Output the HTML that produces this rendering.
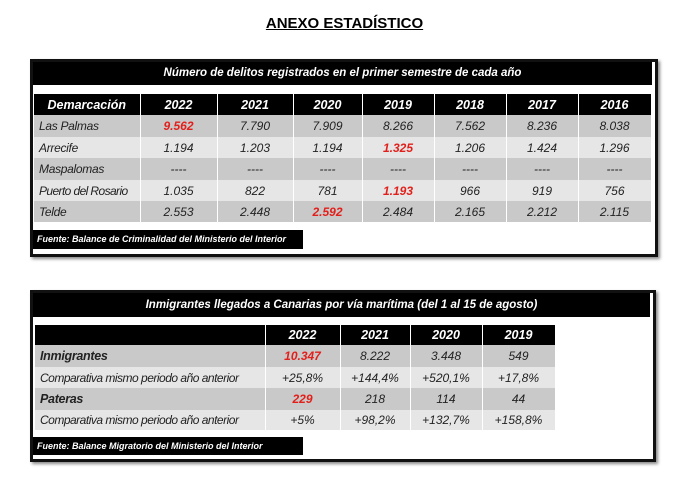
<!DOCTYPE html>
<html><head><meta charset="utf-8">
<style>
body{margin:0;width:689px;height:482px;background:#fff;position:relative;overflow:hidden;font-family:"Liberation Sans",sans-serif}
.t{position:absolute;left:0;width:689px;top:15px;text-align:center;font-weight:bold;font-size:15px;text-decoration:underline}
.box{position:absolute;border:3px solid #111;box-shadow:2px 2px 3px #888;background:#fff}
.bar{position:absolute;background:#000;color:#fff;font-style:italic;font-weight:bold;font-size:11.5px;text-align:center;white-space:nowrap}
table{position:absolute;border-collapse:collapse;table-layout:fixed;font-style:italic;font-size:12px;color:#222}
td,th{padding:0;text-align:center;border-right:1px solid #fff;white-space:nowrap;overflow:hidden}
th{background:#000;color:#fff;font-weight:bold;font-size:12.5px}
tr.d td{background:#c9c9c9}tr.l td{background:#e6e6e6}
td.n{text-align:left;padding-left:5px;letter-spacing:-0.3px}
.r{color:#e2201b;font-weight:bold}
.src{position:absolute;background:#000;color:#fff;font-style:italic;font-weight:bold;font-size:9px;padding-left:4px;white-space:nowrap}
</style></head><body>
<div class="t">ANEXO ESTADÍSTICO</div>

<div class="box" style="left:30px;top:59px;width:622px;height:192px"></div>
<div class="bar" style="left:33px;top:62px;width:619px;height:23px;line-height:23px">Número de delitos registrados en el primer semestre de cada año</div>
<table style="left:34px;top:94px;width:617px">
<colgroup><col style="width:106px"><col style="width:77px"><col style="width:76px"><col style="width:69px"><col style="width:72px"><col style="width:72px"><col style="width:72px"><col style="width:73px"></colgroup>
<tr style="height:21px"><th>Demarcación</th><th>2022</th><th>2021</th><th>2020</th><th>2019</th><th>2018</th><th>2017</th><th>2016</th></tr>
<tr class="d" style="height:22px"><td class="n">Las Palmas</td><td class="r">9.562</td><td>7.790</td><td>7.909</td><td>8.266</td><td>7.562</td><td>8.236</td><td>8.038</td></tr>
<tr class="l" style="height:21px"><td class="n">Arrecife</td><td>1.194</td><td>1.203</td><td>1.194</td><td class="r">1.325</td><td>1.206</td><td>1.424</td><td>1.296</td></tr>
<tr class="d" style="height:22px"><td class="n">Maspalomas</td><td>----</td><td>----</td><td>----</td><td>----</td><td>----</td><td>----</td><td>----</td></tr>
<tr class="l" style="height:21px"><td class="n" style="letter-spacing:-0.6px">Puerto del Rosario</td><td>1.035</td><td>822</td><td>781</td><td class="r">1.193</td><td>966</td><td>919</td><td>756</td></tr>
<tr class="d" style="height:21px"><td class="n">Telde</td><td>2.553</td><td>2.448</td><td class="r">2.592</td><td>2.484</td><td>2.165</td><td>2.212</td><td>2.115</td></tr>
</table>
<div class="src" style="left:33px;top:230px;width:266px;height:19px;line-height:19px">Fuente: Balance de Criminalidad del Ministerio del Interior</div>

<div class="box" style="left:30px;top:290px;width:620px;height:166px"></div>
<div class="bar" style="left:33px;top:293px;width:617px;height:24px;line-height:24px">Inmigrantes llegados a Canarias por vía marítima (del 1 al 15 de agosto)</div>
<table style="left:35px;top:325px;width:520px">
<colgroup><col style="width:230px"><col style="width:75px"><col style="width:70px"><col style="width:72px"><col style="width:73px"></colgroup>
<tr style="height:20px"><th></th><th>2022</th><th>2021</th><th>2020</th><th>2019</th></tr>
<tr class="d" style="height:22px"><td class="n" style="font-weight:bold;font-size:12.5px">Inmigrantes</td><td class="r">10.347</td><td>8.222</td><td>3.448</td><td>549</td></tr>
<tr class="l" style="height:21px"><td class="n" style="letter-spacing:-0.5px">Comparativa mismo periodo año anterior</td><td>+25,8%</td><td>+144,4%</td><td>+520,1%</td><td>+17,8%</td></tr>
<tr class="d" style="height:22px"><td class="n" style="font-weight:bold;font-size:12.5px">Pateras</td><td class="r">229</td><td>218</td><td>114</td><td>44</td></tr>
<tr class="l" style="height:20px"><td class="n" style="letter-spacing:-0.5px">Comparativa mismo periodo año anterior</td><td>+5%</td><td>+98,2%</td><td>+132,7%</td><td>+158,8%</td></tr>
</table>
<div class="src" style="left:33px;top:437px;width:266px;height:18px;line-height:18px">Fuente: Balance Migratorio del Ministerio del Interior</div>
</body></html>
